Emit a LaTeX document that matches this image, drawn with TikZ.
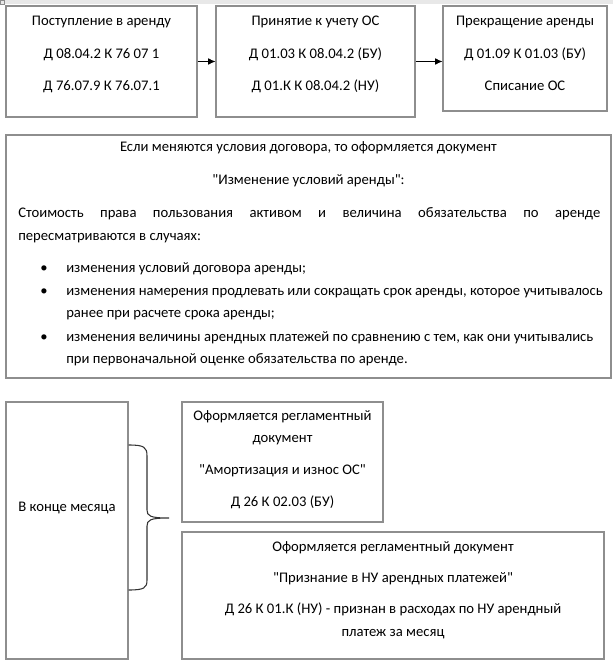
\documentclass[tikz,border=0pt]{standalone}
\usepackage{fontspec}
\setmainfont{Carlito}
\usetikzlibrary{arrows.meta,fit}
\definecolor{bordergray}{HTML}{8E8E8E}
\definecolor{bandgray}{HTML}{E8E8E8}
\begin{document}
\begin{tikzpicture}[x=0.75pt,y=-0.75pt,
  box/.style={draw=bordergray, line width=0.8pt, inner sep=0pt},
  txt/.style={font=\fontsize{11pt}{13pt}\selectfont, inner sep=0pt, anchor=mid},
  ltxt/.style={txt, anchor=mid west},
  arr/.style={-{Latex[length=5.5pt,width=5pt]}, line width=0.6pt, black},
  bracestyle/.style={line width=0.8pt, draw=black!80}]
\useasboundingbox (0,0) rectangle (613,666);
% top band
\fill[bandgray] (0,0) rectangle (613,4);
\draw[bordergray, line width=0.5pt] (0.5,0.5) rectangle (4,4);
% top boxes
\node[box, fit={(6,6) (197,117)}] (b1) {};
\node[box, fit={(216,6) (415,117)}] (b2) {};
\node[box, fit={(443,6) (607,111)}] (b3) {};
\node[txt] (t11) at (101.5,22) {Поступление в аренду};
\node[txt] (t12) at (101.5,55) {Д 08.04.2 К 76 07 1};
\node[txt] (t13) at (101.5,87) {Д 76.07.9 К 76.07.1};
\node[txt] (t21) at (315.5,22) {Принятие к учету ОС};
\node[txt] (t22) at (315.5,55) {Д 01.03 К 08.04.2 (БУ)};
\node[txt] (t23) at (315.5,87) {Д 01.К К 08.04.2 (НУ)};
\node[txt] (t31) at (525,22) {Прекращение аренды};
\node[txt] (t32) at (525,55) {Д 01.09 К 01.03 (БУ)};
\node[txt] (t33) at (525,87) {Списание ОС};
\draw[arr] (b1.east) -- (b2.west);
\draw[arr] (b2.east) -- (b2.east -| b3.west);
% big box
\node[box, fit={(6,135) (611,378)}] (big) {};
\node[txt] (g1) at (308.5,148) {Если меняются условия договора, то оформляется документ};
\node[txt] (g2) at (308.5,181) {\textquotedbl Изменение условий аренды\textquotedbl:};
\node[ltxt] (g3) at (18,214) {\makebox[436.5pt][s]{Стоимость права пользования активом и величина обязательства по аренде}};
\node[ltxt] (g4) at (18,237) {пересматриваются в случаях:};
\node[txt] (d1) at (44,269) {•};
\node[txt] (d2) at (44,292) {•};
\node[txt] (d3) at (44,338) {•};
\node[ltxt] (l1) at (66,269) {изменения условий договора аренды;};
\node[ltxt] (l2) at (66,292) {изменения намерения продлевать или сокращать срок аренды, которое учитывалось};
\node[ltxt] (l3) at (66,314) {ранее при расчете срока аренды;};
\node[ltxt] (l4) at (66,338) {изменения величины арендных платежей по сравнению с тем, как они учитывались};
\node[ltxt] (l5) at (66,360) {при первоначальной оценке обязательства по аренде.};
% bottom
\node[box, fit={(6,402) (128,659)}] (month) {};
\node[txt] (mt) at (67,508) {В конце месяца};
\node[box, fit={(182,402) (383,522)}] (am) {};
\node[txt] (a1) at (282.5,417) {Оформляется регламентный};
\node[txt] (a2) at (282.5,439) {документ};
\node[txt] (a3) at (282.5,471) {\textquotedbl Амортизация и износ ОС\textquotedbl};
\node[txt] (a4) at (282.5,503) {Д 26 К 02.03 (БУ)};
\node[box, fit={(182,532) (604,659)}] (pr) {};
\node[txt] (p1) at (393,548) {Оформляется регламентный документ};
\node[txt] (p2) at (393,579) {\textquotedbl Признание в НУ арендных платежей\textquotedbl};
\node[txt] (p3) at (393,610) {Д 26 К 01.К (НУ) - признан в расходах по НУ арендный};
\node[txt] (p4) at (393,633) {платеж за месяц};
% brace
\coordinate (bt) at (month.east |- 0,445);
\coordinate (bb) at (month.east |- 0,590);
\coordinate (tip) at (169,518);
\draw[bracestyle] (bt) .. controls (144,445) and (147,447) .. (147,456)
  -- (147,510) .. controls (147,516) and (150,518) .. (tip)
  .. controls (150,518) and (147,520) .. (147,526)
  -- (147,580) .. controls (147,588) and (144,590) .. (bb);
\end{tikzpicture}
\end{document}
